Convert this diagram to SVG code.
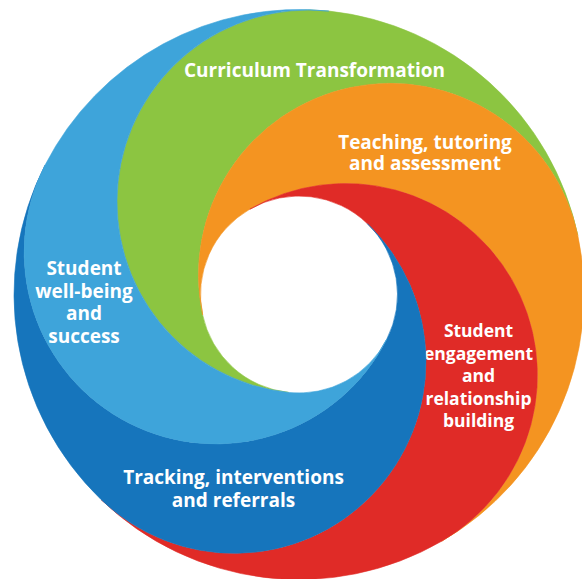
<svg xmlns="http://www.w3.org/2000/svg" width="582" height="579" viewBox="0 0 582 579">
  <style>
    .band { stroke-width: 0.6; stroke-linejoin: round; }
    .green { fill: #8cc541; stroke: #8cc541; }
    .orange { fill: #f49421; stroke: #f49421; }
    .red { fill: #e02b27; stroke: #e02b27; }
    .dblue { fill: #1675bc; stroke: #1675bc; }
    .lblue { fill: #3ea4da; stroke: #3ea4da; }
    .label { font-family: "Open Sans", "Liberation Sans", sans-serif; font-weight: 700; font-size: 19px; fill: #ffffff; text-anchor: middle; }
    .small { font-size: 17.5px; }
  </style>
  <rect width="582" height="579" fill="#ffffff"/>
  <!-- five spiral bands: outer ring R=285, hole r=98.5, dividing circles r=191.75 -->
  <g id="curriculum">
    <path class="band green" d="M328.79,11.06 A285,285 0 0 1 577.77,235.25 A191.75,191.75 0 0 0 350.34,87.55 A191.75,191.75 0 0 0 202.65,314.98 A98.5,98.5 0 0 0 288.70,392.46 A191.75,191.75 0 0 1 118.05,181.72 A191.75,191.75 0 0 1 328.79,11.06 Z"/>
    <text class="label" x="314.5" y="77">Curriculum Transformation</text>
  </g>
  <g id="teaching">
    <path class="band orange" d="M577.77,235.25 A285,285 0 0 1 441.5,541.32 A191.75,191.75 0 0 0 511.69,279.38 A191.75,191.75 0 0 0 249.75,209.20 A98.5,98.5 0 0 0 202.65,314.98 A191.75,191.75 0 0 1 350.34,87.55 A191.75,191.75 0 0 1 577.77,235.25 Z"/>
    <text class="label" x="425" y="149">Teaching, tutoring</text>
    <text class="label" x="425" y="170">and assessment</text>
  </g>
  <g id="engagement">
    <path class="band red" d="M441.5,541.32 A285,285 0 0 1 101.02,499.51 A191.75,191.75 0 0 0 372.15,494.78 A191.75,191.75 0 0 0 367.42,223.65 A98.5,98.5 0 0 0 249.75,209.20 A191.75,191.75 0 0 1 511.69,279.38 A191.75,191.75 0 0 1 441.5,541.32 Z"/>
    <text class="label small" x="478.5" y="337">Student</text>
    <text class="label small" x="478.5" y="359.5">engagement</text>
    <text class="label small" x="478.5" y="382">and</text>
    <text class="label small" x="478.5" y="404.5">relationship</text>
    <text class="label small" x="478.5" y="427">building</text>
  </g>
  <g id="tracking">
    <path class="band dblue" d="M101.02,499.51 A285,285 0 0 1 45.06,165.11 A191.75,191.75 0 0 0 128.86,423.02 A191.75,191.75 0 0 0 386.76,339.22 A98.5,98.5 0 0 0 367.42,223.65 A191.75,191.75 0 0 1 372.15,494.78 A191.75,191.75 0 0 1 101.02,499.51 Z"/>
    <text class="label" x="233.5" y="484">Tracking, interventions</text>
    <text class="label" x="233.5" y="506.5">and referrals</text>
  </g>
  <g id="wellbeing">
    <path class="band lblue" d="M45.06,165.11 A285,285 0 0 1 328.79,11.06 A191.75,191.75 0 0 0 118.05,181.72 A191.75,191.75 0 0 0 288.70,392.46 A98.5,98.5 0 0 0 386.76,339.22 A191.75,191.75 0 0 1 128.86,423.02 A191.75,191.75 0 0 1 45.06,165.11 Z"/>
    <text class="label" x="84" y="275">Student</text>
    <text class="label" x="84" y="297.5">well-being</text>
    <text class="label" x="84" y="320">and</text>
    <text class="label" x="84" y="342.5">success</text>
  </g>
</svg>
